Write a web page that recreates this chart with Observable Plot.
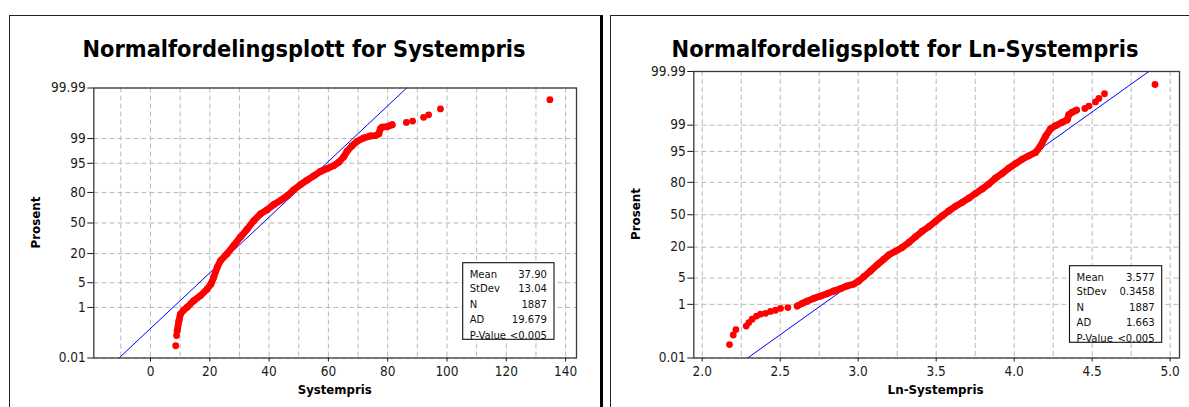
<!DOCTYPE html>
<html>
<head>
<meta charset="utf-8">
<script src="https://cdn.jsdelivr.net/npm/d3@7"></script>
<script src="https://cdn.jsdelivr.net/npm/@observablehq/plot@0.6"></script>
<style>
  html, body { margin: 0; padding: 0; background: #fff; }
  #root { position: relative; width: 1189px; height: 407px; overflow: hidden; background: #fff;
          font-family: "DejaVu Sans Condensed", "DejaVu Sans", sans-serif; }
  .panel { position: absolute; top: 15px; height: 430px; box-sizing: border-box; border: 1px solid #222; }
  #leftPanel { left: 9px; width: 594px; border-right: 3px solid #000; }
  #rightPanel { left: 610px; width: 620px; }
  .plotbox { position: absolute; top: 0; }
  #overlay { position: absolute; left: 0; top: 0; pointer-events: none; }
</style>
</head>
<body>
<div id="root">
  <div class="panel" id="leftPanel"></div>
  <div class="panel" id="rightPanel"></div>
  <div class="plotbox" id="leftPlot" style="left:0px"></div>
  <div class="plotbox" id="rightPlot" style="left:603px"></div>
  <svg id="overlay" width="1189" height="407"></svg>
</div>
<script>
// ---------------- DATA ----------------
// Probability-axis ticks (percent)
const pctTicks = [0.01, 1, 5, 20, 50, 80, 95, 99, 99.99];
const pctTickLabels = ["0.01", "1", "5", "20", "50", "80", "95", "99", "99.99"];

// Systempris (left plot)
const sysTitle = "Normalfordelingsplott for Systempris";
const sysXLabel = "Systempris";
const sysXTicks = [0, 20, 40, 60, 80, 100, 120, 140];
const sysXGrid = [-10, 0, 10, 20, 30, 40, 50, 60, 70, 80, 90, 100, 110, 120, 130, 140];
const sysLowValue = [8.5, 8.8];
const sysLowPct = [0.036, 0.097];
const sysBodyValue = [9.0, 9.6, 10.1, 11.2, 12.4, 14.6, 16.9, 19.1, 20.4, 21.3, 22.5, 23.6, 25.8, 28.1, 30.3,
  32.6, 34.8, 37.1, 39.3, 41.6, 43.8, 46.1, 48.3, 50.6, 52.8, 55.1, 57.3, 59.6, 61.8, 63.5,
  65.2, 66.3, 68.0, 69.7, 71.9, 74.2, 75.8, 77.0, 77.5, 78.1, 79.8, 81.5];
const sysBodyPct = [0.149, 0.357, 0.604, 0.82, 1.02, 1.62, 2.28, 3.44, 4.65, 6.68, 11.1, 14.9, 19.8, 26.8, 34.8,
  43.2, 52.4, 59.9, 64.1, 69.5, 73.2, 77.3, 81.9, 85.5, 88.1, 90.3, 92.2, 93.3, 94.3, 95.3,
  96.6, 97.6, 98.34, 98.78, 99.04, 99.18, 99.2, 99.29, 99.52, 99.59, 99.6, 99.66];
const sysHighValue = [86.3, 88.4, 92.1, 93.8, 97.8, 134.7];
const sysHighPct = [99.72, 99.75, 99.82, 99.856, 99.916, 99.966];
const sysMean = 37.90, sysStDev = 13.04;
const statLabels = ["Mean", "StDev", "N", "AD", "P-Value"];
const sysStats = ["37.90", "13.04", "1887", "19.679", "<0.005"];

// Ln-Systempris (right plot)
const lnTitle = "Normalfordeligsplott for Ln-Systempris";
const lnXLabel = "Ln-Systempris";
const lnXTicks = [2.0, 2.5, 3.0, 3.5, 4.0, 4.5, 5.0];
const lnXGrid = [2.0, 2.25, 2.5, 2.75, 3.0, 3.25, 3.5, 3.75, 4.0, 4.25, 4.5, 4.75, 5.0];
const lnLowValue = [2.175, 2.199, 2.216, 2.282, 2.299, 2.32, 2.348, 2.374, 2.406, 2.438, 2.47, 2.502, 2.549];
const lnLowPct = [0.0376, 0.090, 0.144, 0.193, 0.256, 0.336, 0.427, 0.494, 0.523, 0.604, 0.657, 0.755, 0.798];
const lnBodyValue = [2.609, 2.641, 2.673, 2.716, 2.759, 2.801, 2.844, 2.887, 2.929, 2.972, 3.004, 3.036, 3.079,
  3.122, 3.165, 3.197, 3.239, 3.282, 3.325, 3.368, 3.41, 3.453, 3.496, 3.538, 3.581, 3.624, 3.667,
  3.709, 3.752, 3.795, 3.838, 3.88, 3.923, 3.966, 4.009, 4.051, 4.094, 4.137, 4.169, 4.201, 4.233,
  4.265, 4.308, 4.34, 4.35, 4.372, 4.40];
const lnBodyPct = [0.889, 1.07, 1.25, 1.5, 1.74, 2.02, 2.39, 2.74, 3.22, 3.59, 4.27, 5.37, 7.21,
  9.68, 12.5, 14.9, 17.1, 19.8, 23.6, 28.4, 33.4, 37.8, 43.2, 48.8, 54.0, 58.7, 62.6,
  66.6, 70.9, 74.9, 78.8, 82.9, 85.8, 88.7, 90.8, 92.5, 93.7, 94.7, 96.3, 97.9, 98.71,
  98.96, 99.18, 99.31, 99.53, 99.61, 99.67];
const lnHighValue = [4.453, 4.479, 4.521, 4.543, 4.579, 4.903];
const lnHighPct = [99.71, 99.76, 99.83, 99.874, 99.916, 99.964];
const lnMean = 3.577, lnStDev = 0.3458;
const lnStats = ["3.577", "0.3458", "1887", "1.663", "<0.005"];
const yAxisLabel = "Prosent";

// ---------------- helpers ----------------
// inverse standard normal CDF (Acklam) -> used as the probability-scale transform
function probit(p) {
  const a = [-3.969683028665376e+01, 2.209460984245205e+02, -2.759285104469687e+02, 1.383577518672690e+02, -3.066479806614716e+01, 2.506628277459239e+00];
  const b = [-5.447609879822406e+01, 1.615858368580409e+02, -1.556989798598866e+02, 6.680131188771972e+01, -1.328068155288572e+01];
  const c = [-7.784894002430293e-03, -3.223964580411365e-01, -2.400758277161838e+00, -2.549732539343734e+00, 4.374664141464968e+00, 2.938163982698783e+00];
  const d = [7.784695709041462e-03, 3.224671290700398e-01, 2.445134137142996e+00, 3.754408661907416e+00];
  const pl = 0.02425, ph = 1 - pl;
  let q, r;
  if (p < pl) { q = Math.sqrt(-2 * Math.log(p)); return (((((c[0]*q+c[1])*q+c[2])*q+c[3])*q+c[4])*q+c[5]) / ((((d[0]*q+d[1])*q+d[2])*q+d[3])*q+1); }
  if (p <= ph) { q = p - 0.5; r = q*q; return (((((a[0]*r+a[1])*r+a[2])*r+a[3])*r+a[4])*r+a[5])*q / (((((b[0]*r+b[1])*r+b[2])*r+b[3])*r+b[4])*r+1); }
  q = Math.sqrt(-2 * Math.log(1 - p)); return -(((((c[0]*q+c[1])*q+c[2])*q+c[3])*q+c[4])*q+c[5]) / ((((d[0]*q+d[1])*q+d[2])*q+d[3])*q+1);
}
const zOf = pct => probit(pct / 100);
const zip = (vals, pcts) => vals.map((v, i) => ({v, p: pcts[i]}));
const yTickZ = pctTicks.map(zOf);
const yTickMap = new Map(yTickZ.map((z, i) => [z, pctTickLabels[i]]));
const yDomain = [zOf(pctTicks[0]), zOf(pctTicks[pctTicks.length - 1])];

function makePlot(cfg) {
  const low = zip(cfg.lowV, cfg.lowP), body = zip(cfg.bodyV, cfg.bodyP), high = zip(cfg.highV, cfg.highP);
  const fit = [pctTicks[0], pctTicks[pctTicks.length - 1]].map(p => ({p, v: cfg.mean + cfg.sd * zOf(p)}));
  const red = "#ff0000";
  return Plot.plot({
    width: cfg.width, height: 407,
    marginLeft: cfg.ml, marginRight: cfg.mr, marginTop: cfg.mt, marginBottom: 49.5,
    style: {fontFamily: "'DejaVu Sans Condensed','DejaVu Sans',sans-serif", fontSize: "13.5px",
            background: "transparent", overflow: "visible", color: "#1a1a1a"},
    x: {domain: cfg.xDomain},
    y: {domain: yDomain},
    marks: [
      Plot.gridX(cfg.xGrid, {stroke: "#b9b9b9", strokeOpacity: 1, strokeDasharray: "5,3"}),
      Plot.gridY(yTickZ, {stroke: "#b9b9b9", strokeOpacity: 1, strokeDasharray: "5,3"}),
      Plot.line(fit, {x: "v", y: d => zOf(d.p), stroke: "#0000ff", strokeWidth: 1}),
      Plot.line(body, {x: "v", y: d => zOf(d.p), stroke: red, strokeWidth: 6.8,
                       strokeLinecap: "round", strokeLinejoin: "round"}),
      Plot.dot(low.concat(body, high), {x: "v", y: d => zOf(d.p), r: 3.4, fill: red, stroke: "none"}),
      Plot.frame({stroke: "#3a3a3a", strokeWidth: 1.3}),
      Plot.axisY(yTickZ, {tickFormat: d => yTickMap.get(d), tickSize: 6, tickPadding: 2, label: null}),
      Plot.axisX(cfg.xTicks, {tickFormat: cfg.xFormat, tickSize: 4, tickPadding: 4, label: null})
    ]
  });
}

document.getElementById("leftPlot").appendChild(makePlot({
  width: 600, ml: 93.3, mr: 24, mt: 87.5,
  xDomain: [-19.12, 143.68], xGrid: sysXGrid, xTicks: sysXTicks, xFormat: d => String(d),
  lowV: sysLowValue, lowP: sysLowPct, bodyV: sysBodyValue, bodyP: sysBodyPct,
  highV: sysHighValue, highP: sysHighPct, mean: sysMean, sd: sysStDev
}));
document.getElementById("rightPlot").appendChild(makePlot({
  width: 586, ml: 90.3, mr: 10, mt: 71,
  xDomain: [1.946, 5.06], xGrid: lnXGrid, xTicks: lnXTicks, xFormat: d3.format(".1f"),
  lowV: lnLowValue, lowP: lnLowPct, bodyV: lnBodyValue, bodyP: lnBodyPct,
  highV: lnHighValue, highP: lnHighPct, mean: lnMean, sd: lnStDev
}));

// ---------------- overlay text (titles, axis labels, stats boxes) ----------------
const ov = d3.select("#overlay");
const FONT = "'DejaVu Sans Condensed','DejaVu Sans',sans-serif";
function addText(txt, x, y, opts) {
  const t = ov.append("text").text(txt).attr("x", x).attr("y", y)
    .attr("font-family", FONT).attr("fill", opts.fill || "#000")
    .attr("font-size", opts.size).attr("font-weight", opts.weight || "normal")
    .attr("text-anchor", opts.anchor || "middle");
  if (opts.len) t.attr("textLength", opts.len).attr("lengthAdjust", "spacingAndGlyphs");
  if (opts.rotate) t.attr("transform", `rotate(-90 ${x} ${y})`);
  return t;
}
addText(sysTitle, 304, 57, {size: 23.5, weight: "bold", len: 443});
addText(lnTitle, 905, 57, {size: 23.5, weight: "bold", len: 467});
addText(sysXLabel, 334.7, 393.5, {size: 12.5, weight: "bold", len: 74});
addText(lnXLabel, 935.6, 393.5, {size: 12.5, weight: "bold", len: 96});
addText(yAxisLabel, 39.6, 222.5, {size: 12.5, weight: "bold", len: 52, rotate: true});
addText(yAxisLabel, 640.2, 214, {size: 12.5, weight: "bold", len: 52, rotate: true});

function statBox(x, y, w, h, values) {
  ov.append("rect").attr("x", x).attr("y", y).attr("width", w).attr("height", h)
    .attr("fill", "#fff").attr("stroke", "#111").attr("stroke-width", 1.1);
  const rows = [15.4, 29.4, 44.9, 59.9, 76.2];
  statLabels.forEach((lab, i) => {
    addText(lab, x + 7, y + rows[i], {size: 11.2, anchor: "start", fill: "#111"});
    addText(values[i], x + w - 7, y + rows[i], {size: 11.2, anchor: "end", fill: "#111"});
  });
}
statBox(462.7, 262.7, 91.3, 76.6, sysStats);
statBox(1069.5, 265.7, 92.2, 76.6, lnStats);
</script>
</body>
</html>
